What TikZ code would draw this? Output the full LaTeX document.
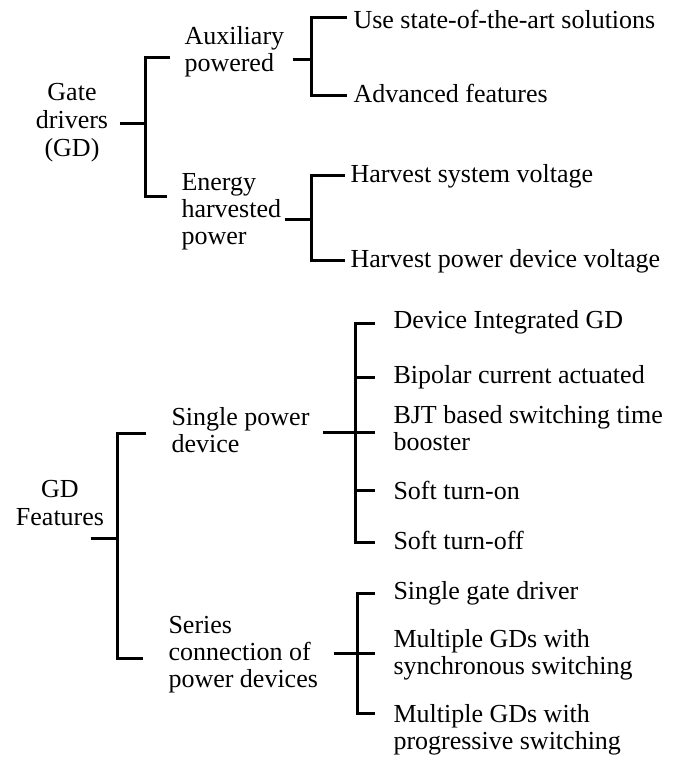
\documentclass[tikz,border=0pt]{standalone}
\usepackage{fontspec}
\setmainfont{Liberation Serif}
\usetikzlibrary{calc}
\tikzset{
  leaf/.style={anchor=west, align=left, inner sep=0pt, font=\fontsize{26}{27}\selectfont},
  root/.style={align=center, inner sep=0pt, font=\fontsize{26}{28}\selectfont},
  tie/.style={shorten <=#1, shorten >=#1},
}
\begin{document}
\begin{tikzpicture}[line width=3pt, line cap=butt, line join=miter, x=1pt, y=-1pt]
  \useasboundingbox (0,0) rectangle (675,757);
  \node[root] (gd) at (72,123) {Gate\\drivers\\(GD)};
  \node[leaf] (aux) at (183,52) {Auxiliary\\powered};
  \node[leaf] (ehp) at (180,212) {Energy\\harvested\\power};
  \node[leaf] (use) at (352,19) {Use state-of-the-art solutions};
  \node[leaf] (adv) at (352,93) {Advanced features};
  \node[leaf] (hsv) at (349,176) {Harvest system voltage};
  \node[leaf] (hpd) at (349,261) {Harvest power device voltage};
  \node[root] (feat) at (60,503) {GD\\Features};
  \node[leaf] (spd) at (170,430) {Single power\\device};
  \node[leaf] (ser) at (167,655) {Series\\connection of\\power devices};
  \node[leaf] (dig) at (392,322) {Device Integrated GD};
  \node[leaf] (bip) at (392,377) {Bipolar current actuated};
  \node[leaf] (bjt) at (392,428) {BJT based switching time\\booster};
  \node[leaf] (son) at (392,490) {Soft turn-on};
  \node[leaf] (sof) at (392,540) {Soft turn-off};
  \node[leaf] (sgd) at (392,593) {Single gate driver};
  \node[leaf] (mgs) at (392,655) {Multiple GDs with\\synchronous switching};
  \node[leaf] (mgp) at (392,730) {Multiple GDs with\\progressive switching};
  \coordinate (b1t) at (145,58);  \coordinate (b1b) at (145,196);
  \coordinate (b2t) at (311,18);  \coordinate (b2m) at (311,60);  \coordinate (b2b) at (311,96);
  \coordinate (b3t) at (311,175); \coordinate (b3m) at (311,219); \coordinate (b3b) at (311,260);
  \coordinate (b4t) at (117,433); \coordinate (b4m) at (117,538); \coordinate (b4b) at (117,658);
  \coordinate (b5t) at (355,323); \coordinate (b5m) at (355,432); \coordinate (b5b) at (355,542);
  \coordinate (b6t) at (357,593); \coordinate (b6m) at (357,653); \coordinate (b6b) at (357,713);
  \draw[shorten <=10pt] (gd.east |- 0,124) -- (b1t |- 0,124);
  \draw[tie=13pt] (b1t -| aux.west) -- (b1t) -- (b1b) -- (b1b -| ehp.west);
  \draw[shorten <=7pt] (b2m -| aux.east) -- (b2m);
  \draw[tie=5pt] (b2t -| use.west) -- (b2t) -- (b2b) -- (b2b -| adv.west);
  \draw[shorten <=2pt] (b3m -| ehp.east) -- (b3m);
  \draw[tie=4pt] (b3t -| hsv.west) -- (b3t) -- (b3b) -- (b3b -| hpd.west);
  \draw[shorten <=-15pt] (b4m -| feat.east) -- (b4m);
  \draw[tie=24pt] (b4t -| spd.west) -- (b4t) -- (b4b) -- (b4b -| ser.west);
  \draw[tie=17pt] (b5t -| dig.west) -- (b5t) -- (b5b) -- (b5b -| sof.west);
  \draw[shorten >=17pt] (b5m -| spd.east) ++(12,0) -- (b5m -| bjt.west);
  \draw[shorten >=17pt] (b5t |- bip) -- (bip.west);
  \draw[shorten >=17pt] (b5t |- son) -- (son.west);
  \draw[tie=17pt] (b6t -| sgd.west) -- (b6t) -- (b6b) -- (b6b -| mgp.west);
  \draw[shorten >=17pt] (b6m -| ser.east) ++(15,0) -- (b6m -| mgs.west);
\end{tikzpicture}
\end{document}
